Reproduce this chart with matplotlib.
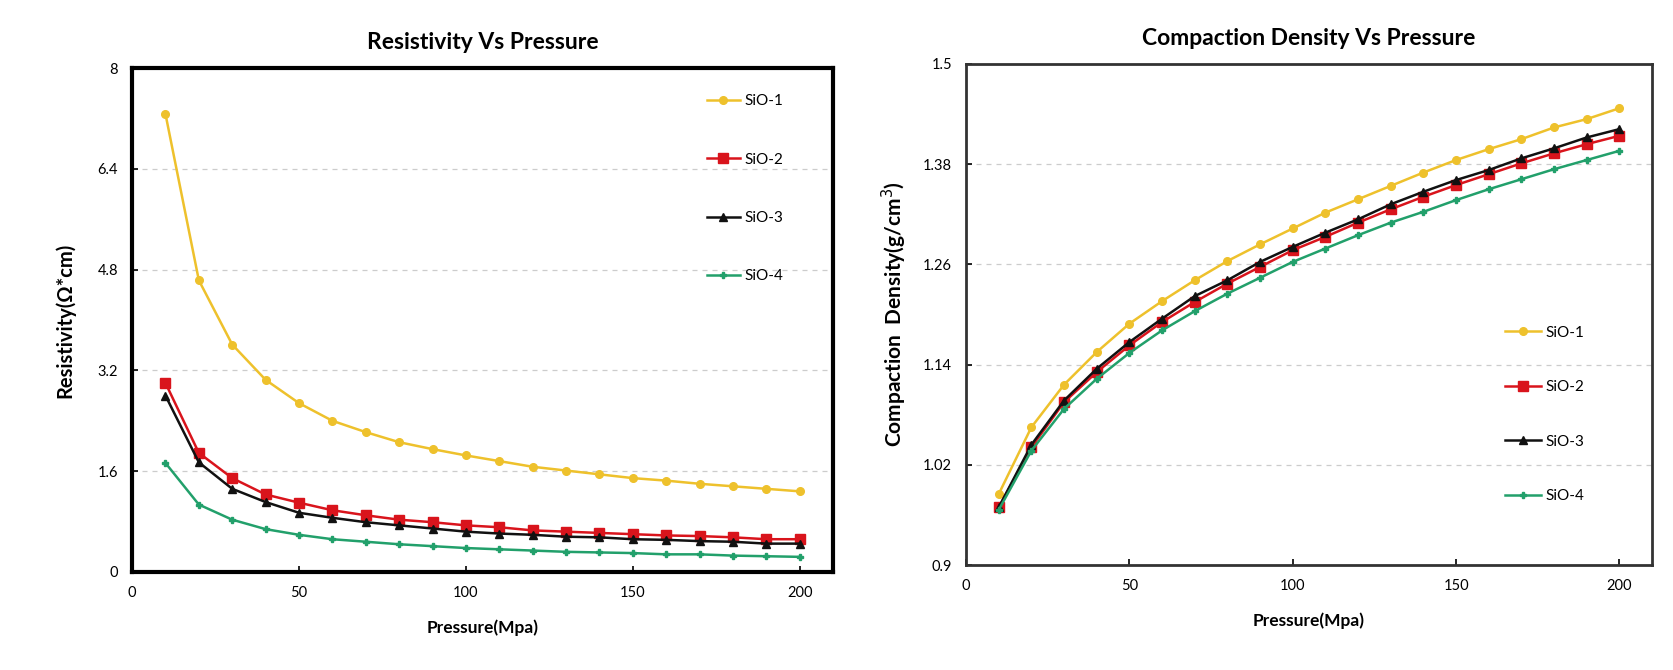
import numpy as np
import matplotlib.pyplot as plt

plt.rcParams['font.family'] = ['Lato', 'DejaVu Sans']

pressure = [10, 20, 30, 40, 50, 60, 70, 80, 90, 100,
            110, 120, 130, 140, 150, 160, 170, 180, 190, 200]
labels = ["SiO-1", "SiO-2", "SiO-3", "SiO-4"]

# resistivity (ohm*cm)
res_1 = [7.27, 4.63, 3.61, 3.05, 2.68, 2.40, 2.22, 2.06, 1.95, 1.85,
         1.76, 1.67, 1.61, 1.55, 1.49, 1.45, 1.40, 1.36, 1.32, 1.28]
res_2 = [3.00, 1.89, 1.49, 1.23, 1.10, 0.98, 0.90, 0.83, 0.79, 0.74,
         0.71, 0.66, 0.64, 0.62, 0.60, 0.58, 0.57, 0.55, 0.52, 0.52]
res_3 = [2.80, 1.74, 1.32, 1.11, 0.94, 0.86, 0.79, 0.74, 0.69, 0.64,
         0.61, 0.59, 0.56, 0.55, 0.52, 0.51, 0.49, 0.48, 0.45, 0.45]
res_4 = [1.73, 1.07, 0.83, 0.68, 0.59, 0.52, 0.48, 0.44, 0.41, 0.38,
         0.36, 0.34, 0.32, 0.31, 0.30, 0.28, 0.28, 0.26, 0.25, 0.24]

# compaction density (g/cm3)
den_1 = [0.985, 1.065, 1.116, 1.155, 1.189, 1.216, 1.241, 1.264, 1.284, 1.303,
         1.322, 1.338, 1.354, 1.370, 1.385, 1.398, 1.410, 1.424, 1.434, 1.447]
den_2 = [0.969, 1.041, 1.095, 1.131, 1.163, 1.191, 1.215, 1.237, 1.257, 1.277,
         1.293, 1.310, 1.326, 1.341, 1.355, 1.368, 1.381, 1.393, 1.404, 1.414]
den_3 = [0.969, 1.044, 1.097, 1.135, 1.167, 1.195, 1.222, 1.241, 1.263, 1.281,
         1.298, 1.314, 1.332, 1.347, 1.361, 1.373, 1.387, 1.399, 1.412, 1.422]
den_4 = [0.966, 1.037, 1.087, 1.123, 1.154, 1.181, 1.204, 1.225, 1.244, 1.263,
         1.279, 1.295, 1.310, 1.323, 1.337, 1.350, 1.362, 1.374, 1.385, 1.396]

res_ticks = [0, 1.6, 3.2, 4.8, 6.4, 8]
den_ticks = [0.9, 1.02, 1.14, 1.26, 1.38, 1.5]
x_ticks = [0, 50, 100, 150, 200]

colors = ["#EEC12C", "#D9141C", "#111111", "#22A06B"]
markers = ["o", "s", "^", "P"]
msizes = [5.5, 6.5, 5.5, 5]

fig = plt.figure(figsize=(16.74, 6.7), dpi=100)
ax1 = fig.add_axes([0.0789, 0.1463, 0.4188, 0.7522])
ax2 = fig.add_axes([0.5771, 0.1567, 0.4098, 0.7478])


def style(ax, yticks, spine_w, spine_c):
    ax.set_xlim(0, 210)
    ax.set_ylim(yticks[0], yticks[-1])
    ax.set_xticks(x_ticks)
    ax.set_yticks(yticks)
    ax.set_yticklabels([f"{t:g}" for t in yticks])
    ax.grid(axis='y', linestyle=(0, (4, 4)), color='#cccccc', linewidth=0.9)
    ax.set_axisbelow(True)
    for s in ax.spines.values():
        s.set_linewidth(spine_w)
        s.set_color(spine_c)
    ax.tick_params(direction='in', length=4, width=1.2, labelsize=10.5, pad=10)
    ax.set_xlabel("Pressure(Mpa)", fontsize=12.5, fontweight='bold', labelpad=14)


for ys, c, m, ms, lab in zip([res_1, res_2, res_3, res_4], colors, markers, msizes, labels):
    ax1.plot(pressure, ys, color=c, marker=m, markersize=ms, linewidth=1.8, label=lab)
style(ax1, res_ticks, 3, 'black')
ax1.set_title("Resistivity Vs Pressure", fontsize=16.5, fontweight='bold', pad=14)
ax1.set_ylabel("Resistivity(Ω*cm)", fontsize=14.5, fontweight='bold', labelpad=16)
ax1.legend(loc='upper left', bbox_to_anchor=(0.8, 0.975), frameon=False,
           labelspacing=2.9, handlelength=2.2, handletextpad=0.3, fontsize=11)

for ys, c, m, ms, lab in zip([den_1, den_2, den_3, den_4], colors, markers, msizes, labels):
    ax2.plot(pressure, ys, color=c, marker=m, markersize=ms, linewidth=1.8, label=lab)
style(ax2, den_ticks, 2, '#333333')
ax2.set_title("Compaction Density Vs Pressure", fontsize=16.5, fontweight='bold', pad=14)
ax2.set_ylabel("Compaction  Density(g/cm$^3$)", fontsize=15, fontweight='bold', labelpad=10)
ax2.legend(loc='upper left', bbox_to_anchor=(0.765, 0.505), frameon=False,
           labelspacing=2.65, handlelength=2.4, handletextpad=0.3, fontsize=11)

fig.savefig("out.png", dpi=100)
